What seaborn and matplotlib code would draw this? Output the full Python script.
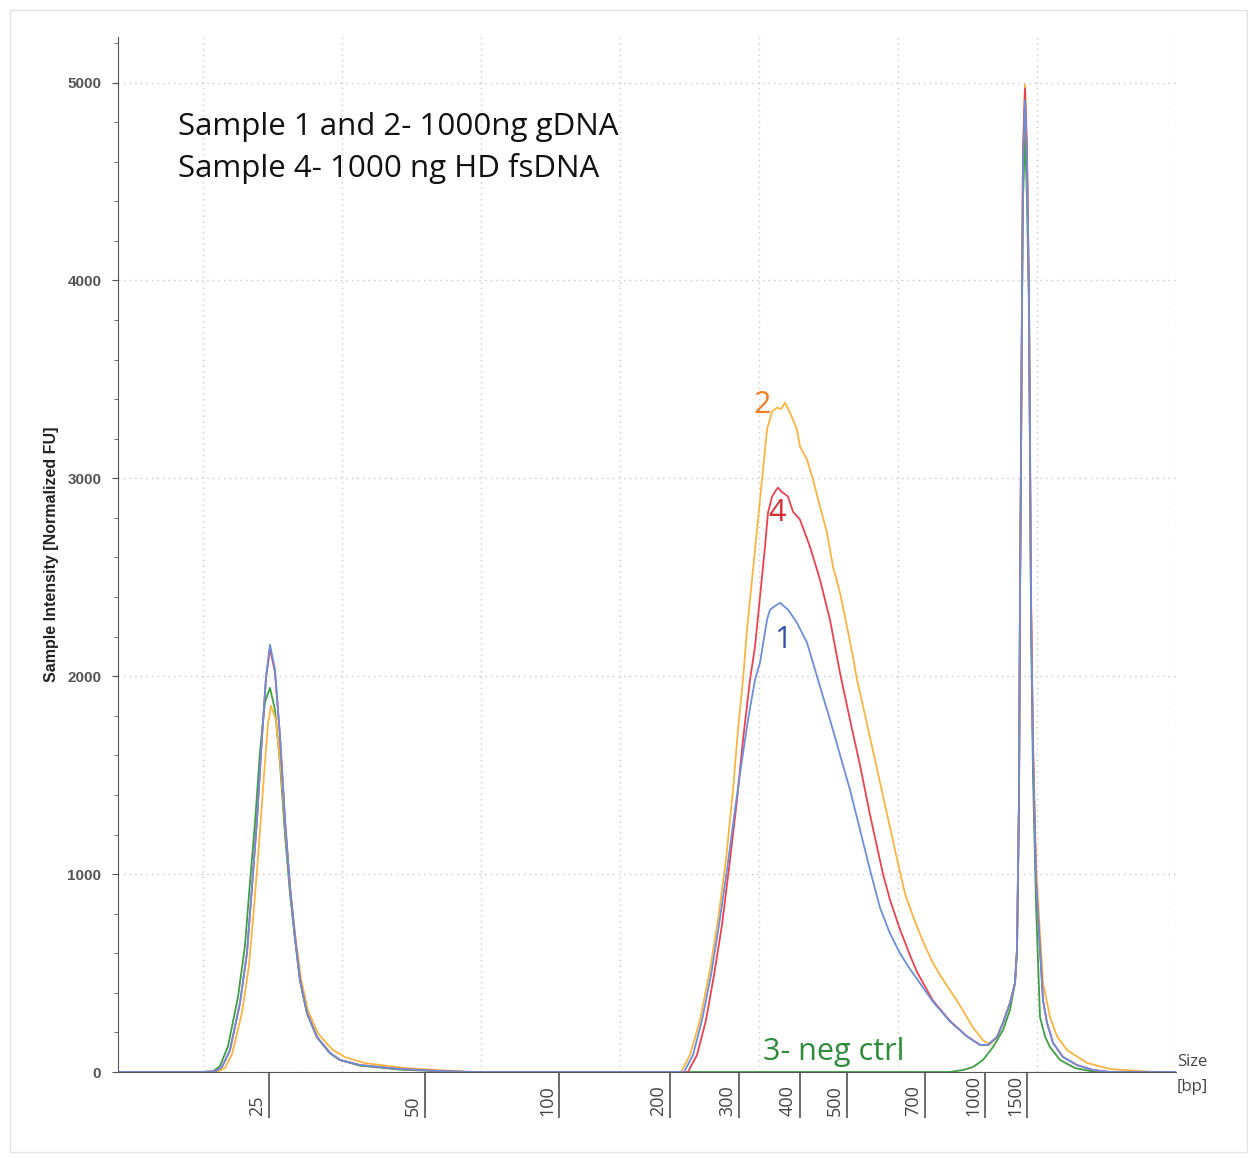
import matplotlib
matplotlib.use("Agg")
import matplotlib.pyplot as plt
import seaborn as sns
import pandas as pd
from matplotlib.patches import Rectangle

# migration position along the gel (x) and intensity in normalized FU (y)
s1_x = [118, 200, 215, 222, 230, 240, 247, 252, 257, 262, 266, 270, 275, 280, 285, 290, 295, 300, 307, 317,
        330, 340, 360, 400, 440, 470, 600, 684, 693, 702, 711, 719, 727, 735, 742, 748, 755, 760, 767, 770,
        775, 780, 788, 797, 807, 813, 818, 830, 840, 850, 860, 870, 880, 890, 900, 910, 917, 933, 950, 967, 980,
        988, 997, 1003, 1010, 1015, 1017, 1019, 1020, 1021, 1022, 1023, 1025, 1027, 1029, 1030, 1031, 1033,
        1036, 1040, 1043, 1047, 1053, 1063, 1077, 1093, 1110, 1176]
s1_y = [0, 0, 3, 25, 111, 349, 602, 935, 1274, 1694, 1997, 2159, 2032, 1694, 1274, 935, 683, 465, 298, 177,
        96, 61, 35, 15, 5, 0, 0, 0, 86, 262, 490, 743, 1021, 1325, 1577, 1780, 1982, 2068, 2285, 2336,
        2355, 2371, 2336, 2270, 2169, 2068, 1982, 1780, 1603, 1426, 1224, 1021, 830, 700, 600, 520, 470, 355, 255, 180, 137,
        137, 177, 248, 349, 450, 617, 1375, 2386, 3094, 3903, 4600, 4910, 4600, 3903, 3150, 2386, 1628,
        971, 617, 364, 248, 147, 76, 35, 10, 0, 0]

s2_x = [118, 200, 218, 225, 232, 242, 249, 254, 259, 264, 268, 271, 276, 281, 286, 291, 296, 301, 308, 318,
        332, 345, 365, 405, 445, 475, 600, 681, 690, 700, 710, 718, 726, 733, 738, 743, 747, 752, 757, 762,
        767, 772, 777, 781, 785, 790, 797, 800, 807, 813, 820, 827, 833, 840, 847, 853, 857, 865, 875, 885,
        895, 905, 915, 923, 932, 940, 957, 973, 983, 990, 997, 1003, 1010, 1015, 1017, 1019, 1020, 1021, 1022,
        1023, 1025, 1027, 1029, 1030, 1031, 1033, 1036, 1040, 1043, 1050, 1057, 1067, 1087, 1110, 1140,
        1155, 1176]
s2_y = [0, 0, 3, 20, 90, 300, 540, 830, 1150, 1500, 1760, 1850, 1780, 1520, 1180, 880, 660, 470, 310, 195,
        115, 75, 45, 20, 8, 0, 0, 0, 86, 262, 516, 769, 1072, 1426, 1729, 1982, 2235, 2488, 2740, 2993,
        3246, 3337, 3357, 3350, 3382, 3332, 3246, 3160, 3094, 2993, 2857, 2725, 2553, 2422, 2250, 2098, 1982, 1805, 1577, 1350,
        1122, 900, 760, 660, 560, 490, 360, 225, 160, 140, 177, 248, 349, 450, 617, 1375, 2386, 3094, 3903,
        4650, 4990, 4650, 3903, 3200, 2450, 1700, 1050, 700, 450, 278, 180, 111, 46, 15, 5,
        0, 0]

s3_x = [118, 200, 213, 220, 228, 238, 245, 250, 255, 260, 265, 270, 275, 280, 285, 290, 295, 300, 307, 317,
        330, 340, 360, 400, 440, 470, 950, 963, 973, 983, 993, 1003, 1010, 1015, 1017, 1019, 1020, 1021,
        1022, 1023, 1025, 1027, 1029, 1030, 1031, 1033, 1036, 1040, 1045, 1050, 1060, 1075, 1095, 1176]
s3_y = [0, 0, 3, 30, 130, 380, 640, 960, 1260, 1620, 1870, 1941, 1830, 1560, 1200, 900, 670, 460, 295, 175,
        95, 60, 32, 12, 4, 0, 0, 10, 25, 61, 126, 212, 313, 450, 617, 1375, 2386, 3094,
        3850, 4400, 4750, 4400, 3850, 3094, 2300, 1500, 850, 278, 180, 126, 61, 20, 0, 0]

s4_x = [118, 200, 215, 222, 230, 240, 247, 252, 257, 262, 266, 270, 275, 280, 285, 290, 295, 300, 307, 317,
        330, 340, 360, 400, 440, 470, 600, 688, 697, 706, 714, 722, 730, 737, 743, 750, 755, 760, 765, 768,
        772, 776, 778, 782, 785, 788, 793, 800, 810, 820, 830, 840, 850, 860, 870, 883, 890, 900, 910, 917,
        933, 950, 967, 980, 988, 997, 1003, 1010, 1015, 1017, 1019, 1020, 1021, 1022, 1023, 1025, 1027, 1029,
        1030, 1031, 1033, 1036, 1040, 1043, 1047, 1053, 1063, 1077, 1093, 1110, 1176]
s4_y = [0, 0, 3, 25, 111, 349, 602, 935, 1274, 1694, 1990, 2140, 2020, 1694, 1274, 935, 683, 465, 298, 177,
        96, 61, 35, 15, 5, 0, 0, 0, 86, 262, 490, 743, 1072, 1375, 1679, 1982, 2149, 2401, 2654, 2826,
        2907, 2940, 2953, 2930, 2920, 2907, 2831, 2791, 2654, 2488, 2285, 2017, 1780, 1550, 1300, 1000, 870, 720, 590, 505,
        360, 258, 180, 137, 137, 177, 248, 349, 450, 617, 1375, 2386, 3094, 3903, 4650, 4970, 4650, 3903,
        3150, 2386, 1628, 971, 617, 364, 248, 147, 76, 35, 10, 0, 0]

size_pos = [269, 425, 559, 670, 739, 800, 847, 925, 985, 1027]
size_labels = ["25", "50", "100", "200", "300", "400", "500", "700", "1000", "1500"]
grid_x = [203, 342, 481, 620, 759, 898, 1037, 1176]

df = pd.concat([
    pd.DataFrame({"pos": s3_x, "fu": s3_y, "sample": "3"}),
    pd.DataFrame({"pos": s2_x, "fu": s2_y, "sample": "2"}),
    pd.DataFrame({"pos": s4_x, "fu": s4_y, "sample": "4"}),
    pd.DataFrame({"pos": s1_x, "fu": s1_y, "sample": "1"}),
])
palette = {"1": "#6d8ed8", "2": "#fbb443", "3": "#3f9f45", "4": "#e8434f"}

sns.set_style("white")
fig = plt.figure(figsize=(12.48, 11.58), dpi=100)
ax = fig.add_axes([118 / 1248, 86 / 1158, (1176 - 118) / 1248, (1072 - 37) / 1158])

sns.lineplot(data=df, x="pos", y="fu", hue="sample", hue_order=["3", "2", "4", "1"],
             palette=palette, estimator=None, linewidth=1.3, legend=False, ax=ax)

ax.set_xlim(118, 1176)
ax.set_ylim(0, 5230)
ax.set_xlabel("")
ax.set_ylabel("Sample Intensity [Normalized FU]", fontsize=11.5, fontweight="bold",
              family="Liberation Sans", color="#222222", labelpad=6)

# axes styling
for s in ["top", "right"]:
    ax.spines[s].set_visible(False)
ax.spines["left"].set_color("#555555")
ax.spines["bottom"].set_color("#555555")

ax.set_yticks([0, 1000, 2000, 3000, 4000, 5000])
ax.set_yticks(range(0, 5201, 200), minor=True)
ax.tick_params(axis="y", which="both", left=True)
ax.tick_params(axis="y", which="major", length=4, color="#555555", labelsize=11, labelcolor="#555555", pad=8)
ax.tick_params(axis="y", which="minor", length=3, color="#555555")
for t in ax.get_yticklabels():
    t.set_fontweight("bold")
    t.set_family("Liberation Sans")

ax.set_xticks(size_pos)
ax.set_xticklabels([])
ax.set_xticks(grid_x, minor=True)
ax.tick_params(axis="x", which="major", bottom=True, length=33, width=1.1, color="#444444", direction="out")
ax.tick_params(axis="x", which="minor", bottom=False, length=0)
for p, lab in zip(size_pos, size_labels):
    ax.text(p - 3, -0.0425, lab, transform=ax.get_xaxis_transform(), rotation=90,
            ha="right", va="bottom", fontsize=13, color="#444444", family="Open Sans")

ax.grid(False)
ax.grid(True, axis="y", which="major", linestyle=(0, (1, 3)), color="#c8c8c8", linewidth=1)
ax.grid(True, axis="x", which="minor", linestyle=(0, (1, 3)), color="#c8c8c8", linewidth=1)

# annotations
ax.text(178, 4775, "Sample 1 and 2- 1000ng gDNA", fontsize=22.5, family="Open Sans",
        color="#111111", va="center", ha="left")
ax.text(178, 4565, "Sample 4- 1000 ng HD fsDNA", fontsize=22.5, family="Open Sans",
        color="#111111", va="center", ha="left")
ax.text(762, 3372, "2", fontsize=22, color="#ef7d22", family="Open Sans", ha="center", va="center")
ax.text(777, 2826, "4", fontsize=22, color="#d62d33", family="Open Sans", ha="center", va="center")
ax.text(783, 2184, "1", fontsize=22, color="#2f52a8", family="Open Sans", ha="center", va="center")
ax.text(834, 101, "3- neg ctrl", fontsize=22, color="#2e8b3a", family="Open Sans", ha="center", va="center")
ax.text(1177, 51, "Size", fontsize=12, color="#444444", family="Open Sans", ha="left", va="center", clip_on=False)
ax.text(1177, -76, "[bp]", fontsize=12, color="#444444", family="Open Sans", ha="left", va="center", clip_on=False)

fig.patches.append(Rectangle((10 / 1248, 6 / 1158), 1237 / 1248, 1142 / 1158, transform=fig.transFigure,
                             fill=False, edgecolor="#e2e2e2", linewidth=1))

fig.savefig("out.png", dpi=100)
